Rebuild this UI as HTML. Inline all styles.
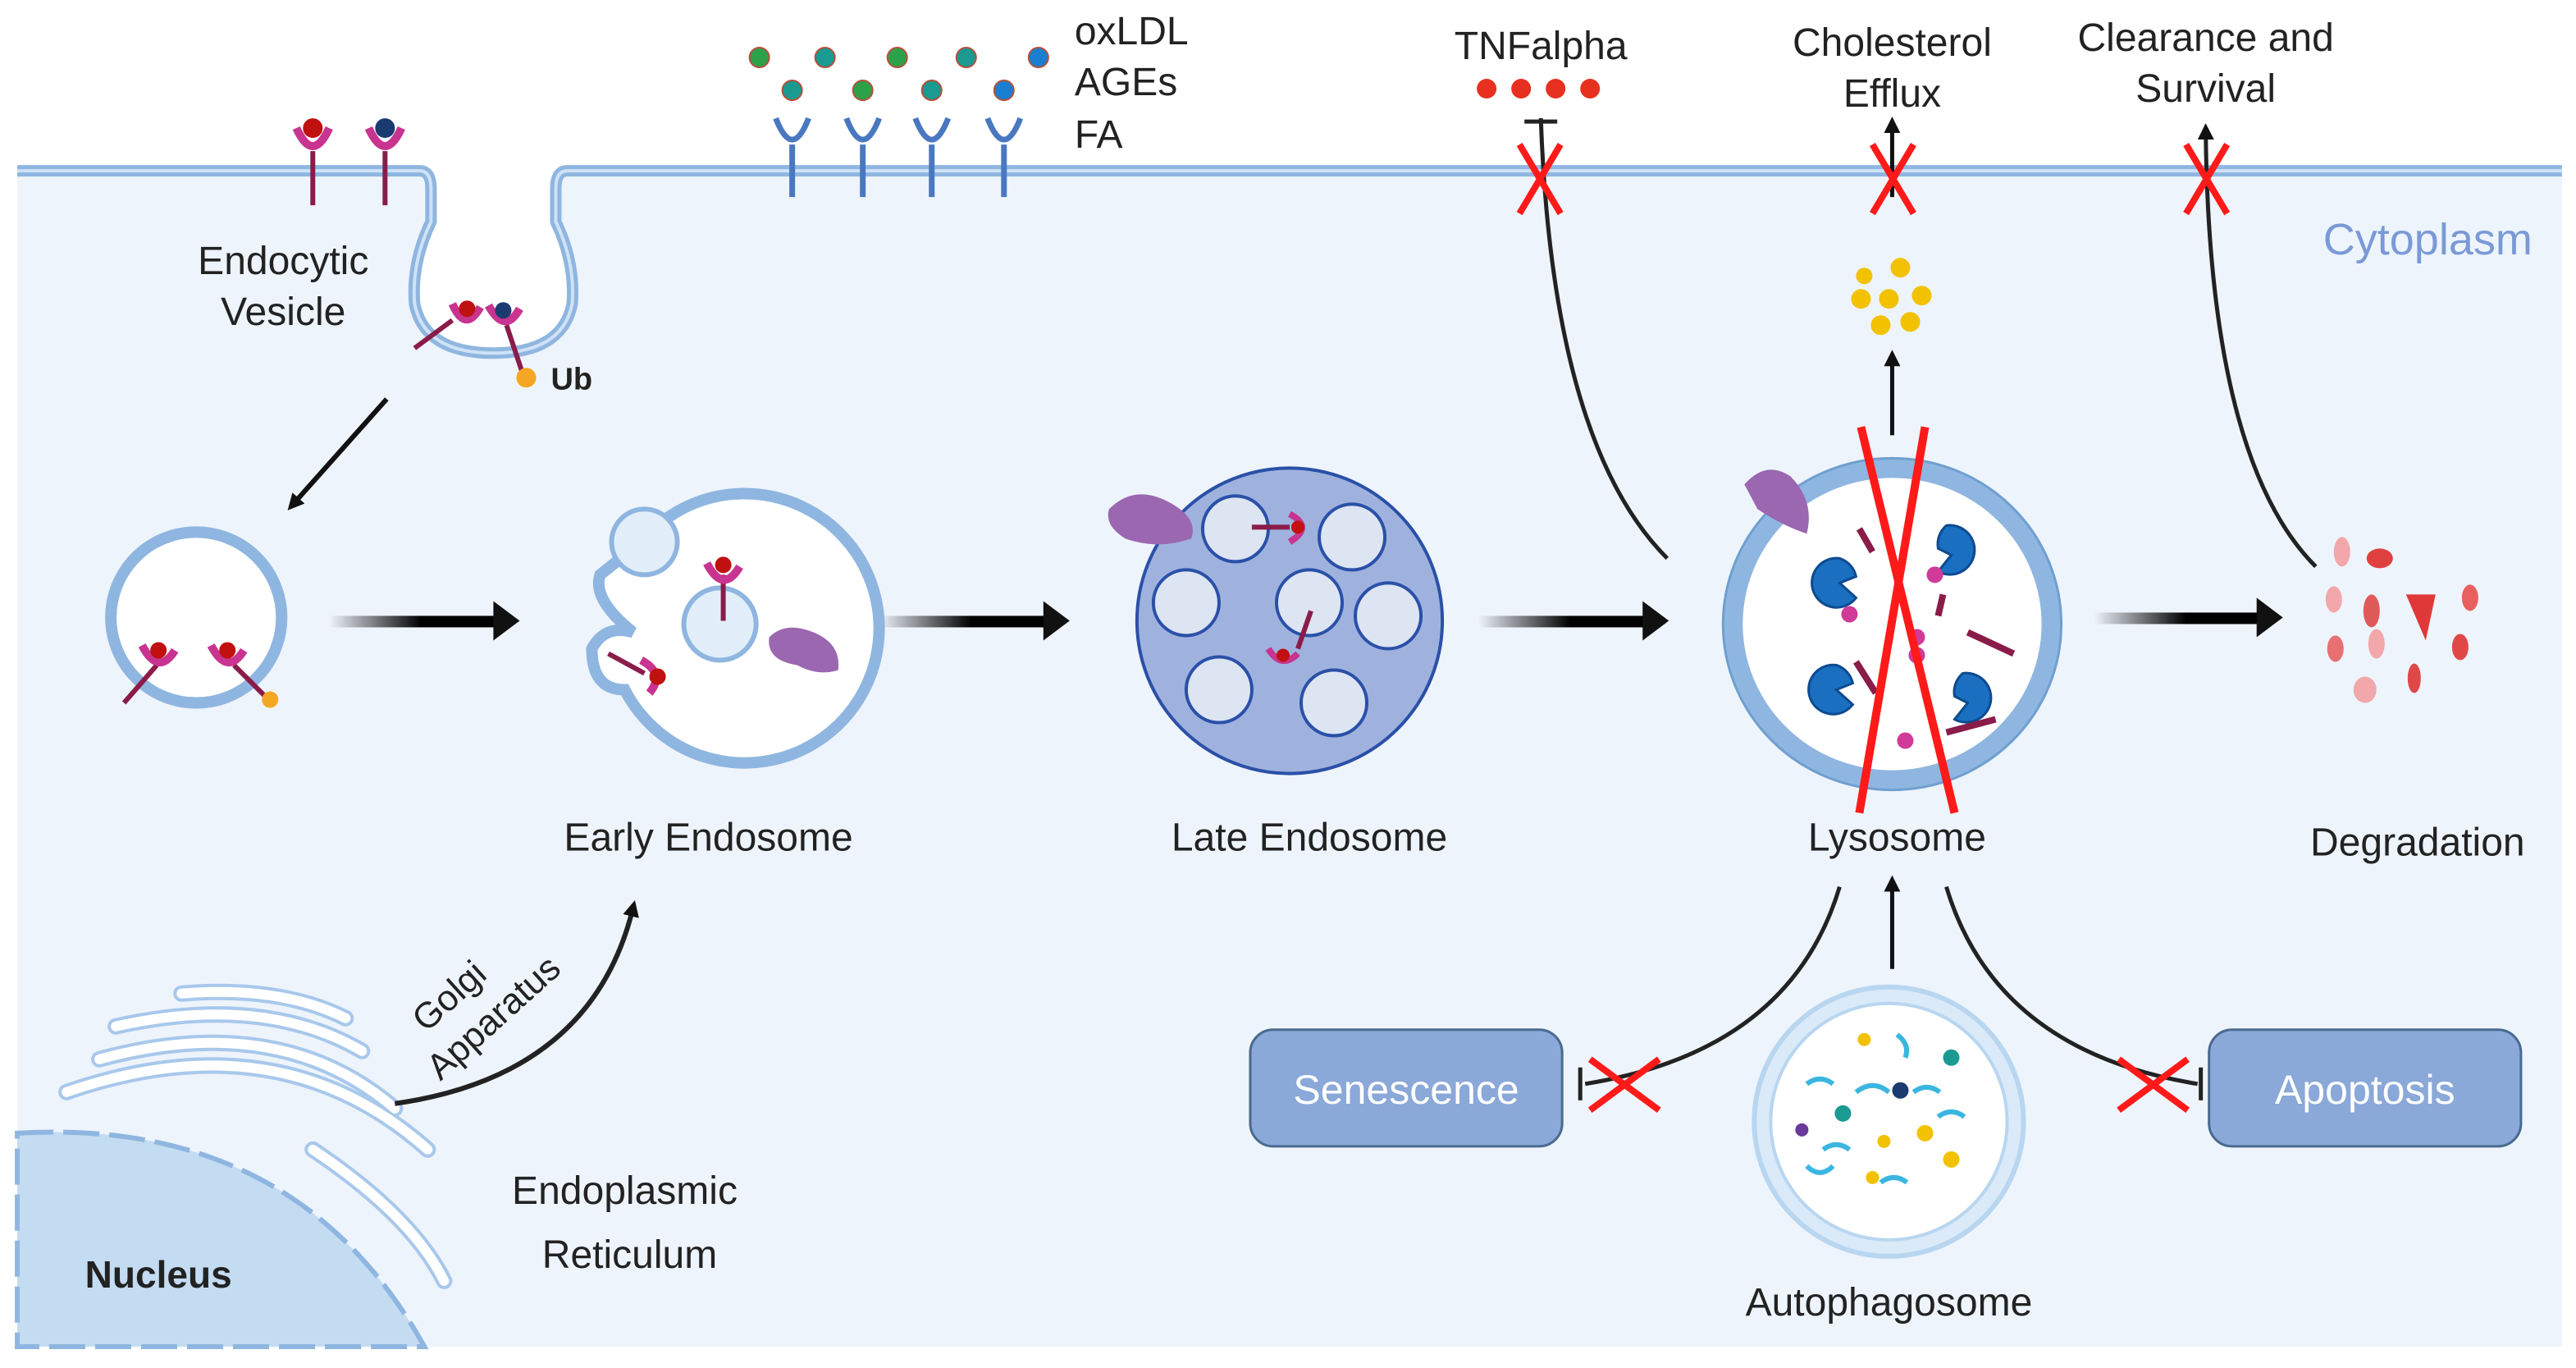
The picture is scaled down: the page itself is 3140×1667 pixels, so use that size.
<!DOCTYPE html>
<html><head><meta charset="utf-8"><style>
html,body{margin:0;padding:0;background:#fff;}
svg{display:block;}
text{font-family:"Liberation Sans",Arial,sans-serif;fill:#222;}
</style></head><body>
<svg width="3140" height="1667" viewBox="0 0 1568 833" xmlns="http://www.w3.org/2000/svg">
<defs>
<linearGradient id="gh" x1="0" x2="1" y1="0" y2="0"><stop offset="0" stop-color="#000" stop-opacity="0"/><stop offset="0.55" stop-color="#000"/></linearGradient>
<marker id="ah" markerWidth="10" markerHeight="10" refX="5" refY="5" orient="auto" markerUnits="userSpaceOnUse"><path d="M0,0 L10,5 L0,10z" fill="#111"/></marker>
</defs>
<rect width="1568" height="833" fill="#fff"/>
<rect x="10" y="104" width="1550" height="716" fill="#eef4fc"/>
<!-- membrane -->
<path d="M264,135 Q250,160 252,185 Q258,215 300,215 Q342,215 348,185 Q350,160 336,135 V104 H264z" fill="#fff"/>
<path d="M10,104 H255 Q262,104 262,115 V135 Q250,160 252,185 Q258,215 300,215 Q342,215 348,185 Q350,160 338,135 V115 Q338,104 345,104 H1560" fill="none" stroke="#8fb6e0" stroke-width="7"/>
<path d="M10,104 H255 Q262,104 262,115 V135 Q250,160 252,185 Q258,215 300,215 Q342,215 348,185 Q350,160 338,135 V115 Q338,104 345,104 H1560" fill="none" stroke="#cfe2f6" stroke-width="2"/>
<!-- receptors top left -->
<g stroke="#8a1c4a" stroke-width="3"><line x1="190" y1="92" x2="190" y2="125"/><line x1="234" y1="92" x2="234" y2="125"/></g>
<path d="M180,78 Q190,100 200,78" stroke="#c8348f" stroke-width="5" fill="none"/><circle cx="190" cy="78" r="6" fill="#c01010"/>
<path d="M224,78 Q234,100 244,78" stroke="#c8348f" stroke-width="5" fill="none"/><circle cx="234" cy="78" r="6" fill="#1a3a70"/>
<!-- vesicle receptors -->
<line x1="275" y1="195" x2="252" y2="212" stroke="#8a1c4a" stroke-width="3"/>
<path d="M275,185 Q283,203 292,187" stroke="#c8348f" stroke-width="5" fill="none"/><circle cx="284" cy="188" r="5" fill="#c01010"/>
<line x1="308" y1="198" x2="318" y2="228" stroke="#8a1c4a" stroke-width="3"/>
<path d="M297,186 Q307,204 316,188" stroke="#c8348f" stroke-width="5" fill="none"/><circle cx="306" cy="189" r="5" fill="#1a3a70"/>
<circle cx="320" cy="230" r="6" fill="#f5a623"/>
<text x="335" y="237" font-size="19" font-weight="bold">Ub</text>
<text x="172" y="167" font-size="24" text-anchor="middle">Endocytic</text>
<text x="172" y="198" font-size="24" text-anchor="middle">Vesicle</text>
<!-- blue receptors and ligands -->
<g stroke="#4a78c0" stroke-width="3.5" fill="none">
<path d="M472,72 Q482,98 492,72"/><line x1="482" y1="88" x2="482" y2="120"/>
<path d="M515,72 Q525,98 535,72"/><line x1="525" y1="88" x2="525" y2="120"/>
<path d="M557,72 Q567,98 577,72"/><line x1="567" y1="88" x2="567" y2="120"/>
<path d="M601,72 Q611,98 621,72"/><line x1="611" y1="88" x2="611" y2="120"/>
</g>
<g stroke="#b5503a" stroke-width="1">
<circle cx="462" cy="35" r="6" fill="#2da14a"/><circle cx="502" cy="35" r="6" fill="#1a9a90"/><circle cx="546" cy="35" r="6" fill="#2da14a"/><circle cx="588" cy="35" r="6" fill="#1a9a90"/><circle cx="632" cy="35" r="6" fill="#1a7fd0"/>
<circle cx="482" cy="55" r="6" fill="#1a9a90"/><circle cx="525" cy="55" r="6" fill="#2da14a"/><circle cx="567" cy="55" r="6" fill="#1a9a90"/><circle cx="611" cy="55" r="6" fill="#1a7fd0"/>
</g>
<text x="654" y="27" font-size="24">oxLDL</text><text x="654" y="58" font-size="24">AGEs</text><text x="654" y="90" font-size="24">FA</text>
<!-- top right labels -->
<text x="938" y="36" font-size="24" text-anchor="middle">TNFalpha</text>
<g fill="#e83020"><circle cx="905" cy="54" r="6"/><circle cx="926" cy="54" r="6"/><circle cx="947" cy="54" r="6"/><circle cx="968" cy="54" r="6"/></g>
<text x="1152" y="34" font-size="24" text-anchor="middle">Cholesterol</text><text x="1152" y="65" font-size="24" text-anchor="middle">Efflux</text>
<text x="1343" y="31" font-size="24" text-anchor="middle">Clearance and</text><text x="1343" y="62" font-size="24" text-anchor="middle">Survival</text>
<text x="1542" y="155" font-size="27" text-anchor="end" style="fill:#7a9ad6">Cytoplasm</text>
<!-- curved arrows to top -->
<path d="M1015,340 Q945,270 938,72" fill="none" stroke="#222" stroke-width="2.5"/>
<line x1="928" y1="74" x2="948" y2="74" stroke="#222" stroke-width="2.5"/>
<path d="M1152,120 V76" stroke="#111" stroke-width="2.5" marker-end="url(#ah)"/>
<path d="M1410,345 Q1345,280 1343,80" fill="none" stroke="#222" stroke-width="2.5" marker-end="url(#ah)"/>
<g stroke="#ff1a1a" stroke-width="4">
<line x1="925" y1="88" x2="950" y2="130"/><line x1="950" y1="88" x2="925" y2="130"/>
<line x1="1140" y1="88" x2="1165" y2="130"/><line x1="1165" y1="88" x2="1140" y2="130"/>
<line x1="1331" y1="88" x2="1356" y2="130"/><line x1="1356" y1="88" x2="1331" y2="130"/>
</g>
<g fill="#f2c200"><circle cx="1133" cy="182" r="6"/><circle cx="1157" cy="163" r="6"/><circle cx="1170" cy="180" r="6"/><circle cx="1150" cy="182" r="6"/><circle cx="1135" cy="168" r="5"/><circle cx="1145" cy="198" r="6"/><circle cx="1163" cy="196" r="6"/></g>
<path d="M1152,265 V218" stroke="#111" stroke-width="2.5" marker-end="url(#ah)"/>
<!-- first vesicle -->
<circle cx="119" cy="376" r="52" fill="#fff" stroke="#8fb6e0" stroke-width="7"/>
<line x1="95" y1="405" x2="75" y2="428" stroke="#8a1c4a" stroke-width="3"/>
<path d="M86,393 Q96,412 106,396" stroke="#c8348f" stroke-width="5" fill="none"/><circle cx="96" cy="396" r="5" fill="#c01010"/>
<line x1="142" y1="405" x2="162" y2="425" stroke="#8a1c4a" stroke-width="3"/>
<path d="M128,393 Q138,412 148,396" stroke="#c8348f" stroke-width="5" fill="none"/><circle cx="138" cy="396" r="5" fill="#c01010"/>
<circle cx="164" cy="426" r="5" fill="#f5a623"/>
<line x1="235" y1="243" x2="178" y2="307" stroke="#111" stroke-width="3" marker-end="url(#ah)"/>
<!-- horizontal arrows -->
<g fill="url(#gh)"><rect x="200" y="375" width="102" height="7"/><rect x="535" y="375" width="102" height="7"/><rect x="900" y="375" width="102" height="7"/><rect x="1275" y="373" width="102" height="7"/></g>
<g fill="#111"><path d="M300,366 L316,378 L300,390z"/><path d="M635,366 L651,378 L635,390z"/><path d="M1000,366 L1016,378 L1000,390z"/><path d="M1374,364 L1390,376 L1374,388z"/></g>
<!-- early endosome -->
<path d="M390,330 A82,82 0 1 1 380,420 Q360,420 360,395 Q368,380 385,385 Q360,365 365,350z" fill="#fff" stroke="#8fb6e0" stroke-width="7"/>
<circle cx="392" cy="330" r="20" fill="#e2eefa" stroke="#8fb6e0" stroke-width="3"/>
<circle cx="438" cy="380" r="22" fill="#e2eefa" stroke="#8fb6e0" stroke-width="3"/>
<line x1="440" y1="350" x2="440" y2="378" stroke="#8a1c4a" stroke-width="3"/>
<path d="M430,343 Q440,362 450,345" stroke="#c8348f" stroke-width="5" fill="none"/><circle cx="440" cy="344" r="5" fill="#c01010"/>
<line x1="370" y1="398" x2="392" y2="410" stroke="#8a1c4a" stroke-width="3"/>
<path d="M390,402 Q405,410 395,422" stroke="#c8348f" stroke-width="5" fill="none"/><circle cx="400" cy="412" r="5" fill="#c01010"/>
<path d="M468,388 Q478,378 495,385 Q512,392 510,408 Q498,412 485,405 Q466,402 468,388z" fill="#9a67b0"/>
<text x="431" y="518" font-size="24" text-anchor="middle">Early Endosome</text>
<!-- late endosome -->
<circle cx="785" cy="378" r="93" fill="#9fb2de" stroke="#2a50a8" stroke-width="2"/>
<g fill="#dde4f2" stroke="#2a50a8" stroke-width="2">
<circle cx="752" cy="322" r="20"/><circle cx="823" cy="327" r="20"/><circle cx="722" cy="367" r="20"/><circle cx="797" cy="367" r="20"/><circle cx="845" cy="375" r="20"/><circle cx="742" cy="420" r="20"/><circle cx="812" cy="428" r="20"/></g>
<path d="M675,310 Q690,295 710,305 Q730,315 725,328 Q705,335 685,328 Q672,320 675,310z" fill="#9a67b0"/>
<line x1="762" y1="321" x2="785" y2="321" stroke="#8a1c4a" stroke-width="3"/><path d="M785,313 Q800,321 785,330" stroke="#c8348f" stroke-width="4" fill="none"/><circle cx="790" cy="321" r="4" fill="#c01010"/>
<line x1="798" y1="372" x2="790" y2="395" stroke="#8a1c4a" stroke-width="3"/><path d="M772,395 Q780,408 790,398" stroke="#c8348f" stroke-width="4" fill="none"/><circle cx="781" cy="399" r="4" fill="#c01010"/>
<text x="797" y="518" font-size="24" text-anchor="middle">Late Endosome</text>
<!-- lysosome -->
<ellipse cx="1152" cy="380" rx="97" ry="95" fill="#fff" stroke="#8fb6e0" stroke-width="12"/>
<ellipse cx="1152" cy="380" rx="103" ry="101" fill="none" stroke="#6f9fd0" stroke-width="1.5"/>
<path d="M1062,295 Q1075,280 1090,290 Q1105,305 1100,325 Q1085,320 1070,310z" fill="#9a67b0"/>
<g fill="#1a6fc0" stroke="#0d4a90" stroke-width="1.5">
<path d="M1120,340 a15,15 0 1 0 10,24 l-10,-9 l10,-4 a15,15 0 0 0 -10,-11z"/>
<path d="M1185,320 a15,15 0 1 1 -5,28 l8,-10 l-8,-4 a15,15 0 0 1 5,-14z"/>
<path d="M1118,405 a15,15 0 1 0 10,24 l-10,-9 l10,-4 a15,15 0 0 0 -10,-11z"/>
<path d="M1195,410 a15,15 0 1 1 -5,28 l8,-10 l-8,-4 a15,15 0 0 1 5,-14z"/>
</g>
<g fill="#d03a98"><circle cx="1126" cy="374" r="5"/><circle cx="1178" cy="350" r="5"/><circle cx="1167" cy="388" r="5"/><circle cx="1167" cy="399" r="5"/><circle cx="1160" cy="451" r="5"/></g>
<g stroke="#8a1c4a" stroke-width="4"><line x1="1132" y1="322" x2="1140" y2="336"/><line x1="1183" y1="362" x2="1180" y2="375"/><line x1="1198" y1="385" x2="1226" y2="398"/><line x1="1130" y1="403" x2="1142" y2="422"/><line x1="1185" y1="446" x2="1215" y2="438"/></g>
<g stroke="#ff1a1a" stroke-width="5"><line x1="1133" y1="260" x2="1190" y2="495"/><line x1="1172" y1="260" x2="1132" y2="495"/></g>
<text x="1155" y="518" font-size="24" text-anchor="middle">Lysosome</text>
<!-- degradation fragments -->
<g>
<ellipse cx="1426" cy="336" rx="5" ry="9" fill="#f2a8ab"/>
<ellipse cx="1449" cy="340" rx="8" ry="6" fill="#e04040"/>
<ellipse cx="1421" cy="365" rx="5" ry="8" fill="#f2a8ab"/>
<ellipse cx="1444" cy="372" rx="5" ry="10" fill="#e05a5a"/>
<path d="M1465,362 l18,0 l-6,28z" fill="#e03838"/>
<ellipse cx="1504" cy="364" rx="5" ry="8" fill="#e86060"/>
<ellipse cx="1422" cy="395" rx="5" ry="8" fill="#e87070"/>
<ellipse cx="1447" cy="392" rx="5" ry="9" fill="#f2a8ab"/>
<ellipse cx="1498" cy="394" rx="5" ry="8" fill="#e04848"/>
<ellipse cx="1440" cy="420" rx="7" ry="8" fill="#f2a8ab"/>
<ellipse cx="1470" cy="413" rx="4" ry="9" fill="#e04848"/>
</g>
<text x="1472" y="521" font-size="24" text-anchor="middle">Degradation</text>
<!-- lower -->
<path d="M1152,590 V538" stroke="#111" stroke-width="2.5" marker-end="url(#ah)"/>
<path d="M1120,540 Q1090,640 965,660" fill="none" stroke="#222" stroke-width="2.5"/>
<line x1="962" y1="650" x2="962" y2="670" stroke="#222" stroke-width="2.5"/>
<path d="M1185,540 Q1215,640 1338,660" fill="none" stroke="#222" stroke-width="2.5"/>
<line x1="1340" y1="650" x2="1340" y2="670" stroke="#222" stroke-width="2.5"/>
<g stroke="#ff1a1a" stroke-width="4"><line x1="968" y1="645" x2="1010" y2="676"/><line x1="968" y1="676" x2="1010" y2="645"/><line x1="1290" y1="645" x2="1332" y2="676"/><line x1="1290" y1="676" x2="1332" y2="645"/></g>
<rect x="761" y="627" width="190" height="71" rx="14" fill="#8aa8d8" stroke="#4a6a90" stroke-width="1.5"/>
<text x="856" y="672" font-size="25" text-anchor="middle" style="fill:#fff">Senescence</text>
<rect x="1345" y="627" width="190" height="71" rx="14" fill="#8aa8d8" stroke="#4a6a90" stroke-width="1.5"/>
<text x="1440" y="672" font-size="25" text-anchor="middle" style="fill:#fff">Apoptosis</text>
<circle cx="1150" cy="683" r="82" fill="#dbeaf8" stroke="#b8d6f0" stroke-width="3"/>
<circle cx="1150" cy="683" r="72" fill="#fff" stroke="#b8d6f0" stroke-width="2"/>
<g stroke="#3ab6e0" stroke-width="3" fill="none"><path d="M1100,660 q8,-6 16,0"/><path d="M1155,630 q8,6 5,14"/><path d="M1130,665 q10,-8 20,0"/><path d="M1110,700 q8,-6 16,0"/><path d="M1165,665 q8,-6 16,0"/><path d="M1180,680 q8,-6 16,0"/><path d="M1145,720 q8,-6 16,0"/><path d="M1100,710 q8,8 16,0"/></g>
<g><circle cx="1135" cy="633" r="4" fill="#f2c200"/><circle cx="1188" cy="644" r="5" fill="#1a9a90"/><circle cx="1157" cy="664" r="5" fill="#1a3a70"/><circle cx="1122" cy="678" r="5" fill="#1a9a90"/><circle cx="1172" cy="690" r="5" fill="#f2c200"/><circle cx="1097" cy="688" r="4" fill="#6a3a9a"/><circle cx="1147" cy="695" r="4" fill="#f2c200"/><circle cx="1188" cy="706" r="5" fill="#f2c200"/><circle cx="1140" cy="717" r="4" fill="#f2c200"/></g>
<text x="1150" y="801" font-size="24" text-anchor="middle">Autophagosome</text>
<!-- nucleus / ER / golgi -->
<path d="M10,690 Q180,680 258,820 H10z" fill="#c4dcf2" stroke="#8fb6e0" stroke-width="3" stroke-dasharray="22,6"/>
<text x="96" y="784" font-size="23" font-weight="bold" text-anchor="middle">Nucleus</text>
<g fill="none" stroke="#a8c8ec" stroke-width="10" stroke-linecap="round">
<path d="M40,665 Q170,620 260,700"/><path d="M60,645 Q170,615 240,675"/><path d="M70,625 Q160,605 220,640"/><path d="M110,605 Q170,600 210,620"/><path d="M190,700 Q250,740 270,780"/>
</g>
<g fill="none" stroke="#fff" stroke-width="6" stroke-linecap="round">
<path d="M40,665 Q170,620 260,700"/><path d="M60,645 Q170,615 240,675"/><path d="M70,625 Q160,605 220,640"/><path d="M110,605 Q170,600 210,620"/><path d="M190,700 Q250,740 270,780"/>
</g>
<path d="M240,672 Q360,655 385,553" fill="none" stroke="#222" stroke-width="3" marker-end="url(#ah)"/>
<text transform="translate(278,612) rotate(-42)" font-size="22" text-anchor="middle">Golgi</text>
<text transform="translate(305,625) rotate(-42)" font-size="22" text-anchor="middle">Apparatus</text>
<text x="380" y="733" font-size="24" text-anchor="middle">Endoplasmic</text>
<text x="383" y="772" font-size="24" text-anchor="middle">Reticulum</text>
</svg>
</body></html>
